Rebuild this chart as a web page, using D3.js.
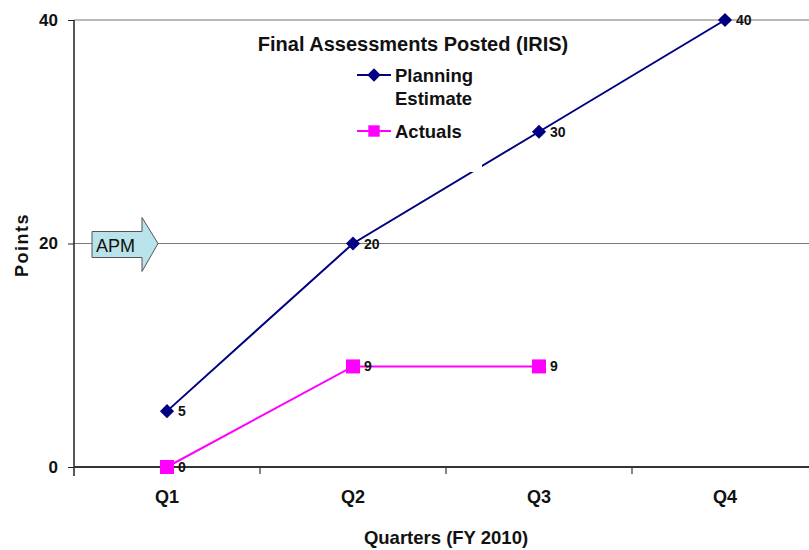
<!DOCTYPE html>
<html>
<head>
  <meta charset="utf-8">
  <script src="https://cdn.jsdelivr.net/npm/d3@7"></script>
  <style>
    body { margin: 0; background: #fff; }
    text { font-family: "Liberation Sans", Arial, sans-serif; }
  </style>
</head>
<body>
<script>
  // chart data
  var quarters = ["Q1", "Q2", "Q3", "Q4"];
  var planning = [5, 20, 30, 40];
  var actuals = [0, 9, 9];
  var yTicks = [0, 20, 40];

  (function () {
    "use strict";
    var width = 809, height = 550;
    var mLeft = 74, mTop = 20, mBottom = 467;

    var svg = d3.select("body").append("svg")
        .attr("width", width)
        .attr("height", height);

    var x = d3.scaleBand().domain(quarters).range([mLeft, 818]);
    var y = d3.scaleLinear().domain([0, 40]).range([mBottom, mTop]);
    var cx = function (d, i) { return x(quarters[i]) + x.bandwidth() / 2; };

    // gridlines
    svg.selectAll(".grid")
        .data(yTicks.filter(function (d) { return d > 0; }))
        .enter().append("line")
        .attr("x1", mLeft).attr("x2", width)
        .attr("y1", function (d) { return y(d); })
        .attr("y2", function (d) { return y(d); })
        .attr("stroke", "#777").attr("stroke-width", 1.2);

    // y axis
    var yAxis = d3.axisLeft(y).tickValues(yTicks).tickSize(6).tickPadding(10);
    var gy = svg.append("g").attr("transform", "translate(" + mLeft + ",0)").call(yAxis);
    gy.select(".domain").attr("d", "M0," + mTop + "V" + (mBottom + 9)).attr("stroke", "#222").attr("stroke-width", 1.5);
    gy.selectAll(".tick line").attr("stroke", "#222");
    gy.selectAll(".tick text").style("font-size", "17px").style("font-weight", "bold")
        .style("font-family", "Liberation Sans, Arial, sans-serif").attr("fill", "#111");

    // x axis: ticks at category boundaries
    svg.append("line")
        .attr("x1", mLeft).attr("x2", width)
        .attr("y1", mBottom).attr("y2", mBottom)
        .attr("stroke", "#333").attr("stroke-width", 2);
    svg.selectAll(".xtick")
        .data(quarters.slice(1))
        .enter().append("line")
        .attr("x1", function (d) { return x(d); })
        .attr("x2", function (d) { return x(d); })
        .attr("y1", mBottom).attr("y2", mBottom + 7)
        .attr("stroke", "#333").attr("stroke-width", 1.2);
    svg.selectAll(".xlabel")
        .data(quarters)
        .enter().append("text")
        .attr("x", function (d) { return x(d) + x.bandwidth() / 2; })
        .attr("y", mBottom + 36)
        .attr("text-anchor", "middle")
        .style("font-size", "18px").style("font-weight", "bold")
        .attr("fill", "#111")
        .text(function (d) { return d; });

    // axis titles
    svg.append("text")
        .attr("x", (mLeft + 818) / 2).attr("y", 544)
        .attr("text-anchor", "middle")
        .style("font-size", "18.5px").style("font-weight", "bold")
        .attr("fill", "#111")
        .text("Quarters (FY 2010)");
    svg.append("text")
        .attr("transform", "translate(28,245) rotate(-90)")
        .attr("text-anchor", "middle")
        .style("font-size", "18px").style("font-weight", "bold")
        .style("letter-spacing", "1.5px")
        .attr("fill", "#111")
        .text("Points");

    var line = d3.line().x(cx).y(function (d) { return y(d); });

    // planning estimate
    svg.append("path").datum(planning)
        .attr("d", line)
        .attr("fill", "none").attr("stroke", "#000080").attr("stroke-width", 2);
    svg.selectAll(".pmark")
        .data(planning)
        .enter().append("path")
        .attr("d", d3.symbol(d3.symbolSquare, 100))
        .attr("transform", function (d, i) { return "translate(" + cx(d, i) + "," + y(d) + ") rotate(45)"; })
        .attr("fill", "#000080");
    svg.selectAll(".plab")
        .data(planning)
        .enter().append("text")
        .attr("x", function (d, i) { return cx(d, i) + 11; })
        .attr("y", function (d) { return y(d) + 5; })
        .style("font-size", "14px").style("font-weight", "bold")
        .attr("fill", "#111")
        .text(function (d) { return d; });

    // actuals
    svg.append("path").datum(actuals)
        .attr("d", line)
        .attr("fill", "none").attr("stroke", "#ff00ff").attr("stroke-width", 2);
    svg.selectAll(".amark")
        .data(actuals)
        .enter().append("rect")
        .attr("x", function (d, i) { return cx(d, i) - 7; })
        .attr("y", function (d) { return y(d) - 7; })
        .attr("width", 14).attr("height", 14)
        .attr("fill", "#ff00ff");
    svg.selectAll(".alab")
        .data(actuals)
        .enter().append("text")
        .attr("x", function (d, i) { return cx(d, i) + 11; })
        .attr("y", function (d) { return y(d) + 5; })
        .style("font-size", "14px").style("font-weight", "bold")
        .attr("fill", "#111")
        .text(function (d) { return d; });

    // legend box (white, hides part of the line)
    svg.append("rect")
        .attr("x", 245).attr("y", 28).attr("width", 237).attr("height", 144)
        .attr("fill", "#fff");
    svg.append("text")
        .attr("x", 413).attr("y", 51)
        .attr("text-anchor", "middle")
        .style("font-size", "20px").style("font-weight", "bold")
        .attr("fill", "#111")
        .text("Final Assessments Posted (IRIS)");

    var legend = [
      { name: ["Planning", "Estimate"], color: "#000080", shape: "diamond", y: 75 },
      { name: ["Actuals"], color: "#ff00ff", shape: "square", y: 131 }
    ];
    var lg = svg.selectAll(".leg").data(legend).enter().append("g");
    lg.append("line")
        .attr("x1", 357).attr("x2", 391)
        .attr("y1", function (d) { return d.y; }).attr("y2", function (d) { return d.y; })
        .attr("stroke", function (d) { return d.color; }).attr("stroke-width", 2);
    lg.append("path")
        .attr("d", function (d) {
          return d.shape === "diamond" ? d3.symbol(d3.symbolSquare, 90)() : d3.symbol(d3.symbolSquare, 130)();
        })
        .attr("transform", function (d) { return "translate(374," + d.y + ")" + (d.shape === "diamond" ? " rotate(45)" : ""); })
        .attr("fill", function (d) { return d.color; });
    lg.append("text")
        .attr("x", 395)
        .attr("y", function (d) { return d.y + 7; })
        .style("font-size", "18.5px").style("font-weight", "bold")
        .attr("fill", "#111")
        .selectAll("tspan")
        .data(function (d) { return d.name; })
        .enter().append("tspan")
        .attr("x", 395)
        .attr("dy", function (d, i) { return i === 0 ? 0 : 23; })
        .text(function (d) { return d; });

    // APM arrow annotation
    var ay = y(20);
    var arrow = d3.path();
    arrow.moveTo(92, ay - 12);
    arrow.lineTo(142, ay - 12);
    arrow.lineTo(142, ay - 26);
    arrow.lineTo(158, ay);
    arrow.lineTo(142, ay + 28);
    arrow.lineTo(142, ay + 14);
    arrow.lineTo(92, ay + 14);
    arrow.closePath();
    svg.append("path")
        .attr("d", arrow.toString())
        .attr("fill", "#b9e3ea").attr("stroke", "#555").attr("stroke-width", 1);
    svg.append("text")
        .attr("x", 96).attr("y", ay + 8)
        .style("font-size", "18px")
        .attr("fill", "#111")
        .text("APM");
  })();
</script>
</body>
</html>
